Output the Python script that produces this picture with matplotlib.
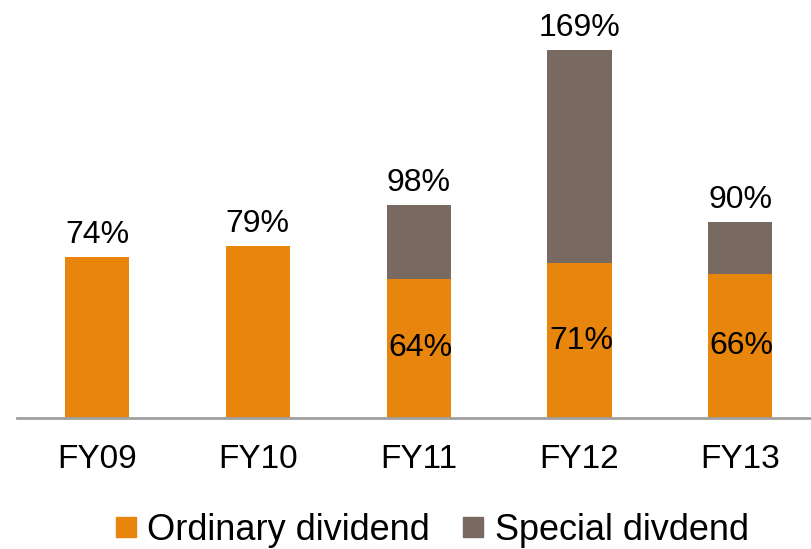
import numpy as np
import matplotlib
matplotlib.use("Agg")
import matplotlib.pyplot as plt
from matplotlib.lines import Line2D

plt.rcParams['font.family'] = ['Liberation Sans', 'DejaVu Sans']

years = ['FY09', 'FY10', 'FY11', 'FY12', 'FY13']
ordinary = [74, 79, 64, 71, 66]
special = [0, 0, 34, 98, 24]
totals = [74, 79, 98, 169, 90]

orange = '#E8850C'
grey = '#786A60'

fig = plt.figure(figsize=(8.11, 5.49), dpi=100)
ax = fig.add_axes([17/811, (549-418)/549, 794/811, 418/549])

x = np.arange(len(years))
ax.bar(x, ordinary, width=0.4, color=orange)
ax.bar(x, special, width=0.4, bottom=ordinary, color=grey)

# totals above the bars
for i in range(len(years)):
    ax.annotate('%d%%' % totals[i], (x[i], totals[i]), xytext=(0, 5),
                textcoords='offset points', ha='center', va='bottom', fontsize=23)

# ordinary share inside bars that have a special part
for i in range(len(years)):
    if special[i] > 0:
        ax.text(x[i] + 0.01, ordinary[i] / 2, '%d%%' % ordinary[i],
                ha='center', va='center', fontsize=23)

ax.set_xlim(-0.498, 4.44)
ax.set_ylim(0, 192)
ax.set_xticks(x)
ax.set_xticklabels(years, fontsize=24)
ax.tick_params(axis='x', length=0, pad=19)
ax.set_yticks([])
for s in ['top', 'right', 'left']:
    ax.spines[s].set_visible(False)
ax.spines['bottom'].set_color('#A0A0A0')
ax.spines['bottom'].set_linewidth(2)

handles = [Line2D([], [], marker='s', linestyle='none', markersize=14, color=orange),
           Line2D([], [], marker='s', linestyle='none', markersize=14, color=grey)]
fig.legend(handles, ['Ordinary dividend', 'Special divdend'], loc='center',
           bbox_to_anchor=(432/811, 1 - 530/549), ncol=2, frameon=False,
           fontsize=26, handlelength=0.6, handletextpad=0.3, columnspacing=0.9)

fig.savefig('out.png', dpi=100)
